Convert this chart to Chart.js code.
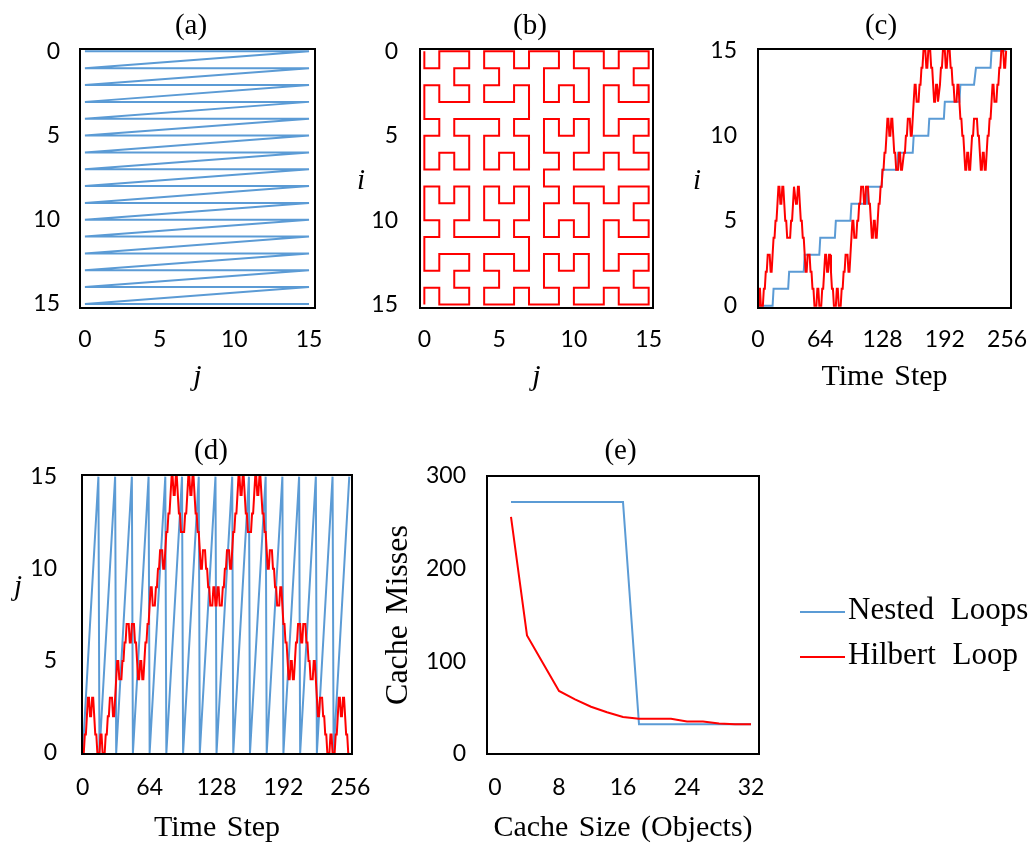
<!DOCTYPE html>
<html>
<head>
<meta charset="utf-8">
<title>Loop order and cache misses</title>
<script src="https://cdn.jsdelivr.net/npm/chart.js@4.4.1/dist/chart.umd.min.js"></script>
<style>
  html, body { margin: 0; padding: 0; background: #fff; overflow: hidden; }
  body { width: 1032px; height: 847px; position: relative; }
  canvas { position: absolute; }
  #legend { position: absolute; left: 800px; top: 593px; width: 232px; height: 80px;
            font-family: "Liberation Serif", "Times New Roman", serif; font-size: 31px;
            word-spacing: 9px; color: #000; }
  .legend-item { position: absolute; left: 0; height: 31px; line-height: 31px; white-space: nowrap; }
  .legend-line { position: absolute; left: 0; width: 45px; height: 2px; }
  .legend-text { position: absolute; left: 48px; top: 0; }
</style>
</head>
<body>
<canvas id="panelA"></canvas>
<canvas id="panelB"></canvas>
<canvas id="panelC"></canvas>
<canvas id="panelD"></canvas>
<canvas id="panelE"></canvas>
<div id="legend"></div>
<script>
// ---- series names ----
const seriesNames = ['Nested Loops', 'Hilbert Loop'];

// ---- nested loops: visiting order of the 16x16 grid (row i, column j) ----
const nestedI = [
  0,0,0,0,0,0,0,0,0,0,0,0,0,0,0,0,
  1,1,1,1,1,1,1,1,1,1,1,1,1,1,1,1,
  2,2,2,2,2,2,2,2,2,2,2,2,2,2,2,2,
  3,3,3,3,3,3,3,3,3,3,3,3,3,3,3,3,
  4,4,4,4,4,4,4,4,4,4,4,4,4,4,4,4,
  5,5,5,5,5,5,5,5,5,5,5,5,5,5,5,5,
  6,6,6,6,6,6,6,6,6,6,6,6,6,6,6,6,
  7,7,7,7,7,7,7,7,7,7,7,7,7,7,7,7,
  8,8,8,8,8,8,8,8,8,8,8,8,8,8,8,8,
  9,9,9,9,9,9,9,9,9,9,9,9,9,9,9,9,
  10,10,10,10,10,10,10,10,10,10,10,10,10,10,10,10,
  11,11,11,11,11,11,11,11,11,11,11,11,11,11,11,11,
  12,12,12,12,12,12,12,12,12,12,12,12,12,12,12,12,
  13,13,13,13,13,13,13,13,13,13,13,13,13,13,13,13,
  14,14,14,14,14,14,14,14,14,14,14,14,14,14,14,14,
  15,15,15,15,15,15,15,15,15,15,15,15,15,15,15,15
];
const nestedJ = [
  0,1,2,3,4,5,6,7,8,9,10,11,12,13,14,15,
  0,1,2,3,4,5,6,7,8,9,10,11,12,13,14,15,
  0,1,2,3,4,5,6,7,8,9,10,11,12,13,14,15,
  0,1,2,3,4,5,6,7,8,9,10,11,12,13,14,15,
  0,1,2,3,4,5,6,7,8,9,10,11,12,13,14,15,
  0,1,2,3,4,5,6,7,8,9,10,11,12,13,14,15,
  0,1,2,3,4,5,6,7,8,9,10,11,12,13,14,15,
  0,1,2,3,4,5,6,7,8,9,10,11,12,13,14,15,
  0,1,2,3,4,5,6,7,8,9,10,11,12,13,14,15,
  0,1,2,3,4,5,6,7,8,9,10,11,12,13,14,15,
  0,1,2,3,4,5,6,7,8,9,10,11,12,13,14,15,
  0,1,2,3,4,5,6,7,8,9,10,11,12,13,14,15,
  0,1,2,3,4,5,6,7,8,9,10,11,12,13,14,15,
  0,1,2,3,4,5,6,7,8,9,10,11,12,13,14,15,
  0,1,2,3,4,5,6,7,8,9,10,11,12,13,14,15,
  0,1,2,3,4,5,6,7,8,9,10,11,12,13,14,15
];

// ---- Hilbert loop: visiting order of the same grid ----
const hilbertI = [
  0,1,1,0,0,0,1,1,2,2,3,3,3,2,2,3,
  4,4,5,5,6,7,7,6,6,7,7,6,5,5,4,4,
  4,4,5,5,6,7,7,6,6,7,7,6,5,5,4,4,
  3,2,2,3,3,3,2,2,1,1,0,0,0,1,1,0,
  0,0,1,1,2,3,3,2,2,3,3,2,1,1,0,0,
  0,1,1,0,0,0,1,1,2,2,3,3,3,2,2,3,
  4,5,5,4,4,4,5,5,6,6,7,7,7,6,6,7,
  7,7,6,6,5,4,4,5,5,4,4,5,6,6,7,7,
  8,8,9,9,10,11,11,10,10,11,11,10,9,9,8,8,
  8,9,9,8,8,8,9,9,10,10,11,11,11,10,10,11,
  12,13,13,12,12,12,13,13,14,14,15,15,15,14,14,15,
  15,15,14,14,13,12,12,13,13,12,12,13,14,14,15,15,
  15,14,14,15,15,15,14,14,13,13,12,12,12,13,13,12,
  11,11,10,10,9,8,8,9,9,8,8,9,10,10,11,11,
  11,11,10,10,9,8,8,9,9,8,8,9,10,10,11,11,
  12,13,13,12,12,12,13,13,14,14,15,15,15,14,14,15
];
const hilbertJ = [
  0,0,1,1,2,3,3,2,2,3,3,2,1,1,0,0,
  0,1,1,0,0,0,1,1,2,2,3,3,3,2,2,3,
  4,5,5,4,4,4,5,5,6,6,7,7,7,6,6,7,
  7,7,6,6,5,4,4,5,5,4,4,5,6,6,7,7,
  8,9,9,8,8,8,9,9,10,10,11,11,11,10,10,11,
  12,12,13,13,14,15,15,14,14,15,15,14,13,13,12,12,
  12,12,13,13,14,15,15,14,14,15,15,14,13,13,12,12,
  11,10,10,11,11,11,10,10,9,9,8,8,8,9,9,8,
  8,9,9,8,8,8,9,9,10,10,11,11,11,10,10,11,
  12,12,13,13,14,15,15,14,14,15,15,14,13,13,12,12,
  12,12,13,13,14,15,15,14,14,15,15,14,13,13,12,12,
  11,10,10,11,11,11,10,10,9,9,8,8,8,9,9,8,
  7,7,6,6,5,4,4,5,5,4,4,5,6,6,7,7,
  7,6,6,7,7,7,6,6,5,5,4,4,4,5,5,4,
  3,2,2,3,3,3,2,2,1,1,0,0,0,1,1,0,
  0,0,1,1,2,3,3,2,2,3,3,2,1,1,0,0
];

// ---- cache simulation results ----
const cacheSizes    = [2, 4, 6, 8, 10, 12, 14, 16, 18, 20, 22, 24, 26, 28, 30, 32];
const nestedMisses  = [272, 272, 272, 272, 272, 272, 272, 272, 32, 32, 32, 32, 32, 32, 32, 32];
const hilbertMisses = [256, 128, 98, 68, 59, 51, 45, 40, 38, 38, 38, 35, 35, 33, 32, 32];

// ---- tick values ----
const gridTicks = [0, 5, 10, 15];
const timeTicks = [0, 64, 128, 192, 256];
const cacheSizeTicks = [0, 8, 16, 24, 32];
const missTicks = [0, 100, 200, 300];

// ---- styling ----
const BLUE = '#5B9BD5';
const RED = '#FF0000';
const SERIF = '"Liberation Serif", "Times New Roman", serif';
const SANS = 'Lato, "Open Sans", sans-serif';
const HEAD_FONT = { family: SERIF, size: 29, weight: 'normal', lineHeight: 1.2 };
const AXIS_FONT = { family: SERIF, size: 30, weight: 'normal', lineHeight: 1.2 };
const TICK_FONT = { family: SANS, size: 23, weight: 'normal', lineHeight: 1.2 };

Chart.defaults.color = '#000';
Chart.defaults.font.family = SANS;

// black frame around each plot area
const plotFrame = {
  id: 'plotFrame',
  afterDatasetsDraw(chart) {
    const { ctx, chartArea: a } = chart;
    ctx.save();
    ctx.strokeStyle = '#000';
    ctx.lineWidth = 2;
    ctx.strokeRect(a.left, a.top, a.right - a.left, a.bottom - a.top);
    ctx.restore();
  }
};

// slightly wider gaps between words in axis titles
const wideWords = {
  id: 'wideWords',
  beforeDraw(chart) { if ('wordSpacing' in chart.ctx) chart.ctx.wordSpacing = '3px'; }
};

// single-letter axis names that stay upright beside the y axis
const uprightLabel = {
  id: 'uprightLabel',
  afterDraw(chart, args, opts) {
    if (!opts || !opts.text) return;
    const ctx = chart.ctx;
    ctx.save();
    ctx.font = 'italic ' + opts.size + 'px ' + SERIF;
    ctx.fillStyle = '#000';
    ctx.textAlign = 'center';
    ctx.textBaseline = 'middle';
    ctx.fillText(opts.text, opts.x, opts.y);
    ctx.restore();
  }
};

// legend rendered as HTML next to panel (e)
const htmlLegend = {
  id: 'htmlLegend',
  afterUpdate(chart, args, opts) {
    const host = opts && opts.containerID ? document.getElementById(opts.containerID) : null;
    if (!host) return;
    host.innerHTML = '';
    const items = chart.options.plugins.legend.labels.generateLabels(chart)
      .sort((a, b) => a.datasetIndex - b.datasetIndex);
    items.forEach((item, k) => {
      const row = document.createElement('div');
      row.className = 'legend-item';
      row.style.top = (k * opts.rowGap) + 'px';
      const line = document.createElement('span');
      line.className = 'legend-line';
      line.style.top = opts.lineTop + 'px';
      line.style.background = item.strokeStyle;
      const text = document.createElement('span');
      text.className = 'legend-text';
      text.textContent = item.text;
      row.appendChild(line);
      row.appendChild(text);
      host.appendChild(row);
    });
  }
};

function zeroPad(s) { s.paddingLeft = s.paddingRight = s.paddingTop = s.paddingBottom = 0; }
function fixedTicks(values) { return (scale) => { scale.ticks = values.map(v => ({ value: v })); }; }

function series(label, color, points, order) {
  return {
    label, data: points, borderColor: color, backgroundColor: color,
    borderWidth: 2, pointRadius: 0, fill: false, tension: 0, order
  };
}

// one panel = one canvas centred under its title; plot rect and text anchors are in page pixels
function makePanel(p) {
  const cx = p.canvasLeft, cy = p.canvasTop, ch = p.canvasHeight;
  const cw = 2 * (p.titleX - cx);
  const [L, T, R, B] = p.plot;
  const el = document.getElementById(p.id);
  el.width = cw; el.height = ch;
  el.style.left = cx + 'px'; el.style.top = cy + 'px';
  el.style.width = cw + 'px'; el.style.height = ch + 'px';

  const headLH = HEAD_FONT.size * HEAD_FONT.lineHeight;
  const axisLH = AXIS_FONT.size * AXIS_FONT.lineHeight;
  const tickLH = TICK_FONT.size * TICK_FONT.lineHeight;
  const titlePadTop = p.titleMid - cy - headLH / 2;
  const titlePadBottom = T - cy - titlePadTop - headLH;

  const xTitleFont = Object.assign({}, AXIS_FONT, { style: p.x.italic ? 'italic' : 'normal' });
  const yTitle = p.y.title
    ? {
        display: true, text: p.y.title, color: '#000',
        font: Object.assign({}, AXIS_FONT, { size: p.y.titleSize }),
        padding: { top: p.y.titleMid - cx - p.y.titleSize * 1.2 / 2, bottom: 0 }
      }
    : { display: false };

  const plugins = {
    legend: { display: false },
    tooltip: { enabled: false },
    title: {
      display: true, text: p.title, font: HEAD_FONT, color: '#000',
      padding: { top: titlePadTop, bottom: titlePadBottom }
    },
    uprightLabel: p.side ? { text: p.side.text, x: p.side.x - cx, y: p.side.y - cy, size: 29 } : {},
    htmlLegend: p.legend || {}
  };

  return new Chart(el, {
    type: 'line',
    data: { datasets: p.datasets },
    options: {
      responsive: false, maintainAspectRatio: false, animation: false,
      devicePixelRatio: 1, events: [],
      layout: { padding: 0 },
      scales: {
        x: {
          type: 'linear', min: p.x.min, max: p.x.max,
          grid: { display: false, drawTicks: false }, border: { display: false },
          afterBuildTicks: fixedTicks(p.x.ticks),
          ticks: { font: TICK_FONT, padding: p.x.labelMid - B - tickLH / 2, maxRotation: 0, autoSkip: false },
          title: {
            display: true, text: p.x.title, font: xTitleFont, color: '#000',
            padding: { top: 0, bottom: cy + ch - p.x.titleMid - axisLH / 2 }
          },
          afterFit: (s) => { s.height = cy + ch - B; zeroPad(s); }
        },
        y: {
          type: 'linear', min: p.y.min, max: p.y.max, reverse: !!p.y.reverse,
          grid: { display: false, drawTicks: false }, border: { display: false },
          afterBuildTicks: fixedTicks(p.y.ticks),
          ticks: { font: TICK_FONT, padding: L - p.y.labelRight, autoSkip: false },
          title: yTitle,
          afterFit: (s) => { s.width = L - cx; zeroPad(s); }
        },
        // empty margin on the right of the plot, so the panel title sits where it should
        margin: {
          type: 'linear', position: 'right', axis: 'y',
          grid: { display: false, drawTicks: false }, border: { display: false },
          ticks: { display: false },
          afterFit: (s) => { s.width = cx + cw - R; zeroPad(s); }
        }
      },
      plugins
    },
    plugins: [wideWords, plotFrame, uprightLabel, htmlLegend]
  });
}

const byStep = (values) => values.map((v, t) => ({ x: t, y: v }));

// (a) nested-loop path over the grid
makePanel({
  id: 'panelA', canvasLeft: 0, canvasTop: 0, canvasHeight: 420, plot: [80, 49, 315, 308],
  title: '(a)', titleX: 191, titleMid: 26.5,
  x: { min: -0.33, max: 15.4, ticks: gridTicks, labelMid: 340, title: 'j', italic: true, titleMid: 377 },
  y: { min: -0.14, max: 15.24, reverse: true, ticks: gridTicks, labelRight: 60 },
  datasets: [series(seriesNames[0], BLUE, nestedJ.map((j, t) => ({ x: j, y: nestedI[t] })), 1)]
});

// (b) Hilbert path over the grid
makePanel({
  id: 'panelB', canvasLeft: 340, canvasTop: 0, canvasHeight: 420, plot: [420, 49, 653, 308],
  title: '(b)', titleX: 530, titleMid: 26.5,
  x: { min: -0.29, max: 15.29, ticks: gridTicks, labelMid: 340, title: 'j', italic: true, titleMid: 377 },
  y: { min: -0.14, max: 15.2, reverse: true, ticks: gridTicks, labelRight: 398 },
  side: { text: 'i', x: 361, y: 181 },
  datasets: [series(seriesNames[1], RED, hilbertJ.map((j, t) => ({ x: j, y: hilbertI[t] })), 1)]
});

// (c) row index i against time step
makePanel({
  id: 'panelC', canvasLeft: 690, canvasTop: 0, canvasHeight: 420, plot: [758, 49, 1011, 308],
  title: '(c)', titleX: 881, titleMid: 26.5,
  x: { min: 0, max: 260, ticks: timeTicks, labelMid: 340, title: 'Time Step', titleMid: 377 },
  y: { min: -0.135, max: 15.1, ticks: gridTicks, labelRight: 737 },
  side: { text: 'i', x: 697, y: 181 },
  datasets: [
    series(seriesNames[0], BLUE, byStep(nestedI), 2),
    series(seriesNames[1], RED, byStep(hilbertI), 1)
  ]
});

// (d) column index j against time step
makePanel({
  id: 'panelD', canvasLeft: 0, canvasTop: 420, canvasHeight: 427, plot: [82, 475, 352, 754],
  title: '(d)', titleX: 211, titleMid: 451.5,
  x: { min: -0.7, max: 257.6, ticks: timeTicks, labelMid: 788, title: 'Time Step', titleMid: 828.5 },
  y: { min: -0.054, max: 15.09, ticks: gridTicks, labelRight: 57 },
  side: { text: 'j', x: 18, y: 587 },
  datasets: [
    series(seriesNames[0], BLUE, byStep(nestedJ), 2),
    series(seriesNames[1], RED, byStep(hilbertJ), 1)
  ]
});

// (e) cache misses against cache size
makePanel({
  id: 'panelE', canvasLeft: 370, canvasTop: 420, canvasHeight: 427, plot: [487, 476, 759, 754],
  title: '(e)', titleX: 620.5, titleMid: 451.5,
  x: { min: -1, max: 33, ticks: cacheSizeTicks, labelMid: 788, title: 'Cache Size (Objects)', titleMid: 828.5 },
  y: { min: 0, max: 300, ticks: missTicks, labelRight: 466, title: 'Cache Misses', titleSize: 32, titleMid: 399 },
  legend: { containerID: 'legend', rowGap: 45, lineTop: 18 },
  datasets: [
    series(seriesNames[0], BLUE, cacheSizes.map((c, k) => ({ x: c, y: nestedMisses[k] })), 2),
    series(seriesNames[1], RED, cacheSizes.map((c, k) => ({ x: c, y: hilbertMisses[k] })), 1)
  ]
});
</script>
</body>
</html>
